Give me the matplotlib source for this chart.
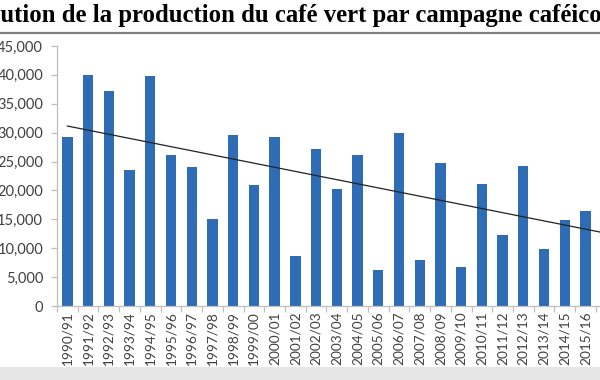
import matplotlib
matplotlib.use('Agg')
import matplotlib.pyplot as plt
from matplotlib.lines import Line2D
from matplotlib.patches import Rectangle
from matplotlib.ticker import FuncFormatter
import numpy as np

# campaigns and green coffee production
campaigns = ['1990/91', '1991/92', '1992/93', '1993/94', '1994/95', '1995/96', '1996/97',
             '1997/98', '1998/99', '1999/00', '2000/01', '2001/02', '2002/03', '2003/04',
             '2004/05', '2005/06', '2006/07', '2007/08', '2008/09', '2009/10', '2010/11',
             '2011/12', '2012/13', '2013/14', '2014/15', '2015/16']
production = [29300, 40000, 37200, 23600, 39800, 26100, 24100, 15000, 29600, 21000,
              29300, 8600, 27200, 20200, 26200, 6200, 29900, 7900, 24700, 6700,
              21200, 12300, 24300, 9800, 14900, 16400]
# linear trend at the first and last campaign shown
trend_ends = [31150, 13300]
yticks = [0, 5000, 10000, 15000, 20000, 25000, 30000, 35000, 40000, 45000]
title = 'Évolution de la production du café vert par campagne caféicole'

bar_color = '#2e6db6'
axis_color = '#bfbfbf'
tick_font = 'Lato'
title_size = 17.8

fig = plt.figure(figsize=(6, 3.8), dpi=100)
ax = fig.add_axes([57 / 600, 74 / 380, 1 - 57 / 600, 260 / 380])

x = np.arange(len(campaigns))
ax.bar(x, production, width=0.5, color=bar_color, zorder=2)

# trend line, carried on past the right edge
slope = (trend_ends[1] - trend_ends[0]) / (len(campaigns) - 1)
xt = np.array([0, 27])
ax.plot(xt, trend_ends[0] + slope * xt, color='#222222', lw=0.9, zorder=3)

ax.set_xlim(-0.5, 25.7)
ax.set_ylim(0, 45000)
ax.set_yticks(yticks)
ax.yaxis.set_major_formatter(FuncFormatter(lambda v, p: '{:,.0f}'.format(v)))
ax.set_xticks(x)
ax.set_xticklabels(campaigns, rotation=90)
ax.set_xticks(np.arange(-0.5, 26.5, 1), minor=True)

for side in ['top', 'right']:
    ax.spines[side].set_visible(False)
for side in ['left', 'bottom']:
    ax.spines[side].set_color(axis_color)
    ax.spines[side].set_linewidth(0.9)

ax.tick_params(axis='x', which='major', length=0, pad=4, labelsize=9.8, labelcolor='#404040')
ax.tick_params(axis='x', which='minor', length=4, color=axis_color, width=0.9)
ax.tick_params(axis='y', length=4, color=axis_color, width=0.9, pad=6,
               labelsize=10.5, labelcolor='#404040')
for lab in ax.get_xticklabels() + ax.get_yticklabels():
    lab.set_family(tick_font)

# title, cropped on both sides like the picture
t = fig.text(0, (380 - 22) / 380, title, ha='left', va='baseline',
             family='Liberation Serif', weight='bold', fontsize=title_size, color='black')
fig.canvas.draw()
renderer = fig.canvas.get_renderer()
probe = fig.text(0, 0, 'Évol', family='Liberation Serif', weight='bold', fontsize=title_size)
w = probe.get_window_extent(renderer).width
probe.remove()
t.set_x(-w / 600)

# rule under the title and grey band at the bottom
fig.add_artist(Line2D([0, 1], [(380 - 32.5) / 380] * 2, color='#808080', lw=1.6))
fig.add_artist(Rectangle((0, 0), 1, 13 / 380, color='#e6e6e6', lw=0))

fig.savefig('out.png', dpi=100)
